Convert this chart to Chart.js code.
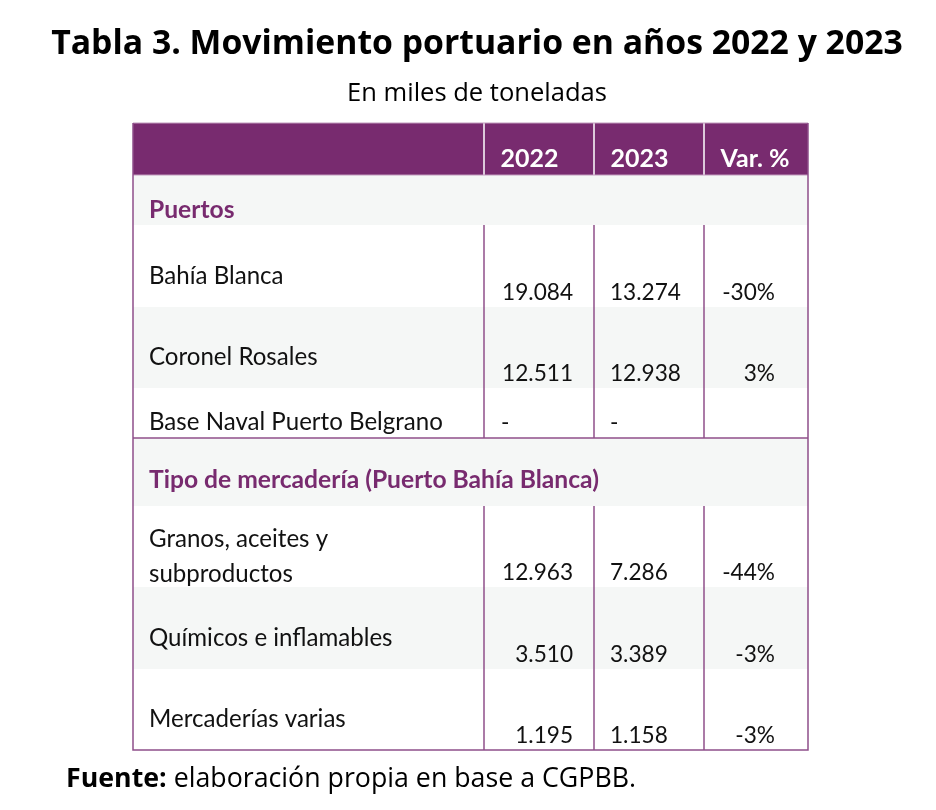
<!DOCTYPE html>
<html lang="es">
<head>
<meta charset="utf-8">
<title>Tabla 3. Movimiento portuario en años 2022 y 2023</title>
<script src="https://cdn.jsdelivr.net/npm/chart.js@4.4.0/dist/chart.umd.min.js"></script>
<style>
    html, body { margin: 0; padding: 0; background: #ffffff; }
    #wrap { width: 936px; height: 810px; }
</style>
</head>
<body>
<div id="wrap"><canvas id="tabla" width="936" height="810"></canvas></div>
<script>
// Datos de la tabla (en miles de toneladas)
const columnas = ['', '2022', '2023', 'Var. %'];
const secciones = ['Puertos', 'Tipo de mercadería (Puerto Bahía Blanca)'];
const puertos = [['Bahía Blanca'], ['Coronel Rosales'], ['Base Naval Puerto Belgrano']];
const mercaderias = [['Granos, aceites y', 'subproductos'], ['Químicos e inflamables'], ['Mercaderías varias']];
const ton2022 = [19084, 12511, null, 12963, 3510, 1195];
const ton2023 = [13274, 12938, null, 7286, 3389, 1158];
const variacion = [-30, 3, null, -44, -3, -3];

// Estilos y diseño de la tabla
const PURPURA = '#782b6f';
const LINEA = '#8f4f8a';
const GRIS = '#f5f7f6';
const TEXTO = '#111111';
const FUENTE_TABLA = 'Lato, "Open Sans", sans-serif';
const FUENTE_TITULO = '"Open Sans", "Noto Sans", sans-serif';

// bordes de columnas y alturas de filas, en unidades de la tabla
const bordesColumnas = [0, 351, 461, 571, 675];
const alturasFilas = [52, 50, 82, 81, 50, 68, 81, 82, 81];
const fondosFilas = [PURPURA, GRIS, '#ffffff', GRIS, '#ffffff', GRIS, '#ffffff', GRIS, '#ffffff'];
const baseSecciones = [7, 18];

// armar la secuencia de filas
const filas = [
    { tipo: 'encabezado' },
    { tipo: 'seccion', texto: secciones[0], n: 0 },
    ...puertos.map((p, i) => ({ tipo: 'dato', etiqueta: p, i: i })),
    { tipo: 'seccion', texto: secciones[1], n: 1 },
    ...mercaderias.map((m, i) => ({ tipo: 'dato', etiqueta: m, i: i + 3 }))
];
const altoTotal = alturasFilas.reduce((a, b) => a + b, 0);

function miles(n) {
    return String(n).replace(/\B(?=(\d{3})+(?!\d))/g, '.');
}

function ajustarTamano(ctx, texto, peso, familia, ancho) {
    ctx.font = `${peso} 100px ${familia}`;
    return 100 * ancho / ctx.measureText(texto).width;
}

const tablaPlugin = {
    id: 'tabla',
    afterDraw(chart) {
        const ctx = chart.ctx;
        const x = chart.scales.x;
        const y = chart.scales.y;
        const px = v => x.getPixelForValue(v);
        const py = v => y.getPixelForValue(v);

        // tamaños de letra ajustados a los anchos del original
        const tEtiqueta = ajustarTamano(ctx, 'Base Naval Puerto Belgrano', 'normal', FUENTE_TABLA, 294);
        const tNumero = ajustarTamano(ctx, '19.084', 'normal', FUENTE_TABLA, 71);
        const tSeccion = ajustarTamano(ctx, secciones[1], 'bold', FUENTE_TABLA, 450);
        const tEncabezado = ajustarTamano(ctx, 'Var. %', 'bold', FUENTE_TABLA, 69);

        ctx.save();
        ctx.textBaseline = 'alphabetic';

        // fondos
        let arriba = 0;
        const tops = [];
        filas.forEach((f, r) => {
            tops.push(arriba);
            const abajo = arriba + alturasFilas[r];
            ctx.fillStyle = fondosFilas[r];
            ctx.fillRect(px(0), py(arriba), px(675) - px(0), py(abajo) - py(arriba));
            arriba = abajo;
        });

        // líneas
        filas.forEach((f, r) => {
            const t = tops[r], b = t + alturasFilas[r];
            if (f.tipo === 'encabezado') {
                ctx.strokeStyle = '#ffffff';
                ctx.lineWidth = 1.5;
            } else if (f.tipo === 'dato') {
                ctx.strokeStyle = LINEA;
                ctx.lineWidth = 1.5;
            } else {
                return;
            }
            for (let c = 1; c < bordesColumnas.length - 1; c++) {
                ctx.beginPath();
                ctx.moveTo(px(bordesColumnas[c]), py(t));
                ctx.lineTo(px(bordesColumnas[c]), py(b));
                ctx.stroke();
            }
        });

        // línea bajo el grupo de puertos
        const finPuertos = tops[5];
        ctx.strokeStyle = LINEA;
        ctx.lineWidth = 1.5;
        ctx.beginPath();
        ctx.moveTo(px(0), py(finPuertos));
        ctx.lineTo(px(675), py(finPuertos));
        ctx.stroke();

        // línea clara bajo el encabezado y arriba
        ctx.strokeStyle = '#c29bbd';
        ctx.lineWidth = 1.2;
        ctx.beginPath();
        ctx.moveTo(px(0), py(alturasFilas[0]));
        ctx.lineTo(px(675), py(alturasFilas[0]));
        ctx.moveTo(px(0), py(0));
        ctx.lineTo(px(675), py(0));
        ctx.stroke();

        // borde exterior
        ctx.strokeStyle = LINEA;
        ctx.lineWidth = 1.5;
        ctx.beginPath();
        ctx.moveTo(px(0), py(0));
        ctx.lineTo(px(0), py(altoTotal));
        ctx.lineTo(px(675), py(altoTotal));
        ctx.lineTo(px(675), py(0));
        ctx.stroke();

        // textos
        filas.forEach((f, r) => {
            const b = tops[r] + alturasFilas[r];
            if (f.tipo === 'encabezado') {
                ctx.fillStyle = '#ffffff';
                ctx.font = `bold ${tEncabezado}px ${FUENTE_TABLA}`;
                ctx.textAlign = 'left';
                for (let c = 1; c < columnas.length; c++) {
                    ctx.fillText(columnas[c], px(bordesColumnas[c] + 16.5), py(b - 8));
                }
            } else if (f.tipo === 'seccion') {
                ctx.fillStyle = PURPURA;
                ctx.font = `bold ${tSeccion}px ${FUENTE_TABLA}`;
                ctx.textAlign = 'left';
                ctx.fillText(f.texto, px(16), py(b - baseSecciones[f.n]));
            } else {
                const alto = alturasFilas[r];
                ctx.fillStyle = TEXTO;
                ctx.font = `normal ${tEtiqueta}px ${FUENTE_TABLA}`;
                ctx.textAlign = 'left';
                const lineas = f.etiqueta;
                let base;
                if (lineas.length > 1) base = b - 5;
                else if (alto < 60) base = b - 8;
                else base = b - 23;
                lineas.forEach((l, k) => {
                    ctx.fillText(l, px(16), py(base - (lineas.length - 1 - k) * 35));
                });

                const bv = alto < 60 ? b - 8 : b - 7;
                ctx.font = `normal ${tNumero}px ${FUENTE_TABLA}`;
                // 2022: números alineados a la derecha, guión a la izquierda
                const v22 = ton2022[f.i];
                if (v22 === null) {
                    ctx.textAlign = 'left';
                    ctx.fillText('-', px(bordesColumnas[1] + 17), py(bv));
                } else {
                    ctx.textAlign = 'right';
                    ctx.fillText(miles(v22), px(bordesColumnas[2] - 21), py(bv));
                }
                // 2023: alineado a la izquierda
                const v23 = ton2023[f.i];
                ctx.textAlign = 'left';
                ctx.fillText(v23 === null ? '-' : miles(v23), px(bordesColumnas[2] + 16), py(bv));
                // variación: alineada a la derecha
                const vv = variacion[f.i];
                if (vv !== null) {
                    ctx.textAlign = 'right';
                    ctx.fillText(vv + '%', px(bordesColumnas[4] - 33), py(bv));
                }
            }
        });

        // título, subtítulo y fuente
        const titulo = 'Tabla 3. Movimiento portuario en años 2022 y 2023';
        const subtitulo = 'En miles de toneladas';
        ctx.fillStyle = '#000000';
        ctx.textAlign = 'center';
        const tTitulo = ajustarTamano(ctx, titulo, 'bold', FUENTE_TITULO, 852);
        ctx.font = `bold ${tTitulo}px ${FUENTE_TITULO}`;
        ctx.fillText(titulo, 477, 54);
        const tSub = ajustarTamano(ctx, subtitulo, 'normal', FUENTE_TITULO, 260);
        ctx.font = `normal ${tSub}px ${FUENTE_TITULO}`;
        ctx.fillText(subtitulo, 477, 101);

        const fuenteA = 'Fuente:';
        const fuenteB = ' elaboración propia en base a CGPBB.';
        ctx.font = `bold 100px ${FUENTE_TITULO}`;
        const wA = ctx.measureText(fuenteA).width;
        ctx.font = `normal 100px ${FUENTE_TITULO}`;
        const wB = ctx.measureText(fuenteB).width;
        const tPie = 100 * 570 / (wA + wB);
        ctx.textAlign = 'left';
        ctx.font = `bold ${tPie}px ${FUENTE_TITULO}`;
        ctx.fillText(fuenteA, 66, 787);
        const anchoA = ctx.measureText(fuenteA).width;
        ctx.font = `normal ${tPie}px ${FUENTE_TITULO}`;
        ctx.fillText(fuenteB, 66 + anchoA, 787);

        ctx.restore();
    }
};

new Chart(document.getElementById('tabla'), {
    type: 'scatter',
    data: { datasets: [] },
    options: {
        responsive: false,
        animation: false,
        layout: {
            padding: { left: 133, top: 123, right: 128, bottom: 810 - 123 - altoTotal }
        },
        plugins: {
            legend: { display: false },
            tooltip: { enabled: false }
        },
        scales: {
            x: { type: 'linear', min: 0, max: bordesColumnas[bordesColumnas.length - 1], display: false },
            y: { type: 'linear', min: 0, max: altoTotal, reverse: true, display: false }
        }
    },
    plugins: [tablaPlugin]
});
</script>
</body>
</html>
